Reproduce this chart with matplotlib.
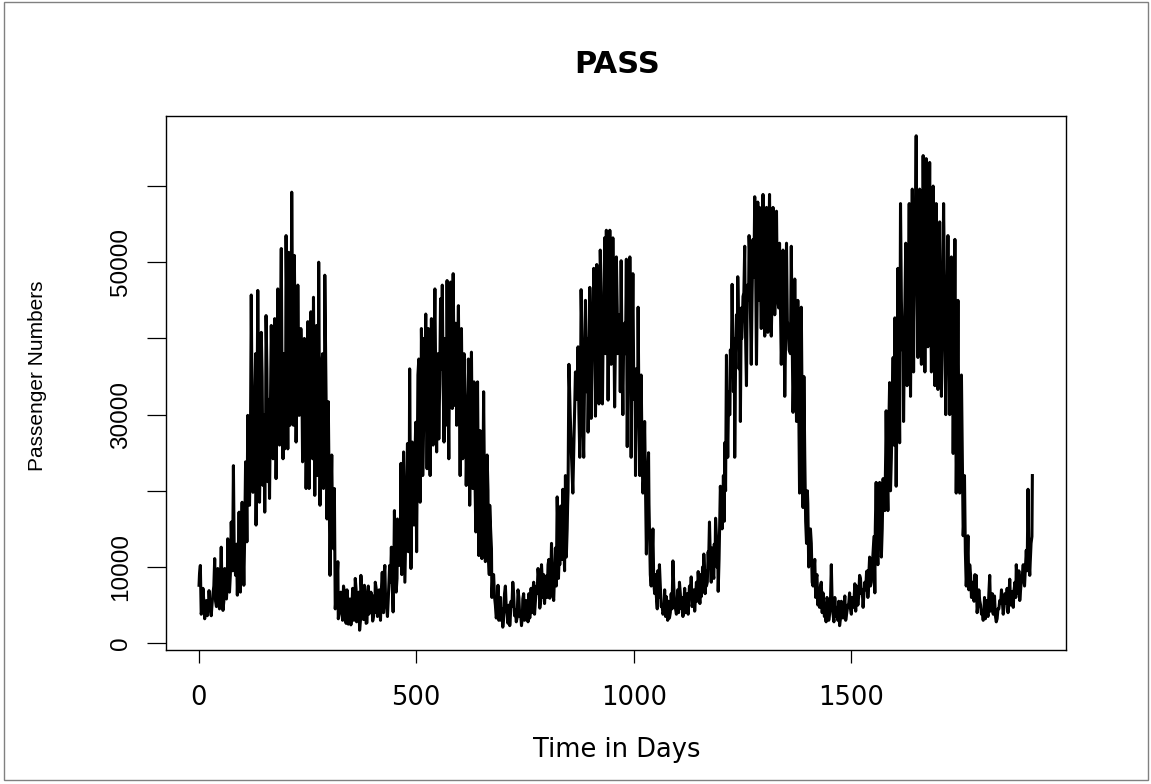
import matplotlib
matplotlib.use("Agg")
import matplotlib.pyplot as plt
import numpy as np
from matplotlib.patches import Rectangle

# ---- data (day index, passengers in thousands) ----
day = [
    1, 4, 6, 10, 14, 18, 21, 24, 29, 33, 37, 41, 44, 48, 52, 56, 60, 64, 67, 71,
    75, 78, 80, 85, 89, 93, 96, 100, 104, 108, 111, 113, 117, 121, 125, 129, 132, 136, 140, 144,
    148, 152, 155, 159, 163, 167, 171, 175, 178, 182, 186, 190, 194, 198,
    201, 205, 207, 210, 214, 218, 220, 224, 228, 231, 235, 239, 243, 247, 251, 254,
    258, 262, 264, 267, 271, 273, 276, 279, 283, 287, 290, 293, 295, 298, 302, 306, 310, 312,
    316, 320, 323, 327, 331, 335, 339, 343, 346, 350, 354, 357, 360, 363, 368, 370,
    373, 377, 381, 385, 388, 391, 396, 400, 403, 406, 411,
    415, 418, 422, 425, 428, 431, 434, 439, 443, 447, 450, 454, 457, 462, 465, 468,
    471, 474, 480, 482, 485, 488, 491, 495, 499, 501, 504, 506, 509, 512, 515, 518,
    522, 525, 528, 532, 535, 539, 543, 547, 550, 552, 556, 560, 564, 566, 568, 571,
    575, 579, 583, 585, 589, 591, 593, 597, 601, 604, 607, 610, 612, 615, 620, 623,
    627, 630, 633, 637,
    641, 644, 647, 651, 655, 659, 663, 666, 669, 673, 676, 680, 684, 688, 692, 695,
    699, 703, 707, 711, 715, 718, 722, 726, 730, 734, 738, 742, 745, 749, 753, 757,
    761, 764, 768, 772, 776, 780, 784, 788, 791, 795, 799, 803, 807, 811, 816, 820,
    824, 827, 830, 834, 837, 841, 845, 848, 851,
    857, 860, 866, 872, 876, 879, 882, 885, 889, 892, 895, 899, 902, 905, 908, 912,
    915, 918, 920, 923, 926, 928, 933, 935, 937, 941, 945, 948, 952, 956, 960, 963,
    966, 969, 971, 975, 979, 983, 985, 988, 991, 994, 998, 1001, 1004, 1007, 1010, 1014,
    1017, 1021, 1025, 1029, 1032, 1035, 1038, 1040, 1044, 1048, 1052, 1055, 1059, 1063, 1067, 1071,
    1075, 1078, 1082, 1086, 1090, 1094, 1098, 1101, 1105, 1109, 1113, 1117, 1121, 1125, 1128, 1132,
    1136, 1140, 1144, 1148, 1152, 1155, 1158, 1161, 1164, 1167, 1171, 1174, 1178, 1182, 1185, 1188,
    1191, 1194, 1197, 1199, 1203, 1206, 1209, 1211, 1213, 1216, 1219, 1222, 1226, 1229, 1232, 1236,
    1239, 1242, 1245, 1248, 1251, 1255, 1257, 1259, 1262, 1265, 1268, 1270, 1274, 1278, 1282, 1285,
    1287, 1289, 1293, 1297, 1301, 1305, 1308, 1312, 1316, 1320, 1324, 1328, 1331, 1335, 1339, 1343,
    1347, 1351, 1354, 1357, 1362, 1366, 1370, 1374, 1377, 1381, 1385, 1389, 1393, 1397, 1400, 1404,
    1408, 1410, 1412, 1416, 1419, 1423, 1427, 1431, 1435, 1438, 1442, 1446, 1450, 1454, 1458, 1462,
    1466, 1469, 1473, 1477, 1481, 1485, 1489, 1492, 1496, 1500, 1504, 1508, 1512, 1515, 1519, 1523,
    1527, 1531, 1535, 1538, 1542, 1546, 1550, 1554, 1557, 1561, 1565, 1569, 1573, 1577, 1580, 1584,
    1588, 1592, 1596, 1600, 1603, 1607, 1611, 1613, 1617, 1620, 1625, 1628, 1633, 1636, 1640, 1643,
    1646, 1649, 1653, 1657, 1661, 1665, 1669, 1672, 1676, 1680, 1684, 1688, 1692, 1695, 1699, 1703,
    1707, 1712, 1717, 1722, 1726, 1730, 1734, 1738, 1741, 1745, 1749, 1753, 1757, 1760, 1764, 1768,
    1772, 1776, 1780, 1784, 1787, 1791, 1795, 1799, 1803, 1806, 1810, 1814, 1818, 1822, 1826, 1829,
    1833, 1837, 1841, 1845, 1849, 1853, 1856, 1860, 1864, 1868, 1872, 1876, 1879, 1883, 1887, 1891,
    1895, 1898, 1902, 1906, 1910, 1913, 1916,
]

passengers_k = [
    7.6, 10.2, 3.8, 7.2, 3.2, 5.6, 4.4, 6.9, 3.6, 6.5, 11.1, 4.8, 9.8, 4.5, 12.6, 4.3, 9.8, 5.8, 13.7, 6.7,
    15.9, 9.5, 23.3, 8.9, 6.3, 17.2, 6.7, 18.5, 7.6, 23.8, 13.3, 29.9, 18.1, 45.7, 19.8, 32.1, 15.5, 46.3, 18.5, 40.8,
    20.7, 17.2, 43.0, 21.2, 19.0, 41.7, 24.2, 42.6, 21.6, 46.5, 26.0, 51.8, 24.2, 25.5,
    53.5, 25.5, 51.3, 28.6, 59.2, 28.6, 50.9, 26.4, 47.0, 29.9, 41.3, 23.8, 40.0, 20.3, 42.2, 20.3,
    43.5, 24.2, 45.4, 19.4, 41.7, 22.0, 50.0, 18.1, 36.5, 20.3, 48.3, 32.1, 16.3, 31.7, 8.9, 24.7, 12.4, 20.3,
    6.3, 10.7, 4.0, 6.7, 3.0, 6.7, 2.6, 5.5, 3.2, 2.4, 7.2, 3.0, 8.5, 2.8, 6.7, 1.7,
    8.9, 3.5, 7.6, 2.6, 6.0, 3.8, 6.7, 2.9, 6.2, 8.0, 3.5,
    7.0, 3.0, 9.3, 4.0, 10.2, 5.5, 3.5, 10.2, 12.6, 4.1, 17.4, 6.7, 16.3, 10.2, 23.6, 11.1,
    25.1, 8.0, 26.2, 12.0, 36.0, 9.8, 26.4, 15.5, 29.0, 12.0, 35.2, 37.3, 18.5, 41.3, 22.0, 40.0,
    43.2, 22.9, 41.3, 22.0, 42.6, 26.0, 46.5, 25.1, 38.0, 26.8, 45.2, 47.0, 26.4, 40.0, 28.6, 47.6,
    24.2, 47.4, 30.8, 48.5, 31.2, 42.0, 28.6, 44.3, 22.0, 41.3, 24.2, 38.0, 33.0, 20.7, 37.3, 18.1,
    38.2, 20.3, 34.3, 14.6,
    34.3, 11.5, 27.9, 11.1, 33.0, 10.7, 24.7, 11.5, 18.1, 12.4, 8.9, 6.1, 3.3, 7.6, 5.6, 3.0,
    2.1, 6.5, 4.7, 2.6, 2.3, 5.5, 8.0, 3.6, 2.8, 7.0, 3.5, 2.3, 5.8, 3.0, 5.6, 2.8,
    3.3, 7.2, 6.6, 3.8, 7.5, 9.8, 4.6, 10.3, 6.0, 5.2, 8.8, 10.3, 5.9, 13.1, 5.6, 12.5,
    19.2, 8.5, 10.3, 16.0, 20.2, 9.5, 11.3, 18.0, 36.6,
    24.4, 19.7, 35.6, 38.9, 24.4, 46.4, 30.0, 24.4, 45.0, 33.0, 27.7, 46.7, 29.5, 40.0, 49.2, 29.8,
    49.7, 38.0, 31.4, 51.6, 40.0, 31.4, 53.2, 38.0, 54.2, 31.9, 54.2, 36.6, 53.2, 31.0, 50.7, 38.0,
    43.1, 33.0, 50.2, 30.0, 42.0, 50.4, 25.8, 40.0, 50.7, 24.4, 48.5, 32.0, 22.0, 36.0, 44.1, 22.0,
    35.2, 19.7, 29.1, 11.7, 22.0, 18.3, 9.0, 7.5, 15.0, 6.5, 6.1, 9.5, 10.3, 4.8, 3.8, 7.0,
    6.1, 3.0, 3.3, 6.5, 10.8, 5.0, 3.8, 7.0, 8.0, 4.5, 3.5, 7.2, 5.6, 3.8, 7.5, 8.7,
    5.5, 4.2, 8.0, 9.4, 5.2, 6.1, 10.0, 11.7, 6.5, 7.5, 12.0, 15.9, 8.0, 9.4, 13.0, 16.4,
    10.0, 6.8, 14.0, 20.6, 15.0, 22.0, 26.3, 20.0, 37.8, 24.4, 30.0, 38.5, 47.1, 33.0, 24.4, 43.1,
    48.1, 36.0, 29.1, 40.0, 45.5, 52.1, 40.0, 33.8, 45.0, 53.5, 44.0, 36.6, 53.0, 58.6, 36.6, 57.9,
    45.0, 57.2, 41.3, 58.9, 40.3, 57.2, 40.8, 58.9, 40.3, 57.2, 43.1, 56.7, 45.0, 52.5, 36.6, 51.6,
    32.4, 52.5, 42.0, 38.5, 52.1, 30.3, 47.8, 29.1, 45.0, 19.7, 44.1, 17.8, 24.4, 13.1, 18.3, 12.2,
    13.1, 8.0, 7.5, 11.0, 8.4, 5.0, 4.7, 8.0, 6.6, 3.5, 2.8, 5.5, 3.8, 10.3, 3.8, 6.0,
    4.7, 3.0, 2.3, 5.5, 3.3, 6.2, 3.8, 5.0, 6.6, 3.8, 4.7, 7.8, 7.5, 5.0, 8.9, 6.5,
    4.7, 8.0, 9.4, 6.0, 11.3, 8.0, 12.2, 6.6, 21.1, 10.3, 21.1, 11.3, 21.6, 17.4, 30.5, 17.4,
    34.2, 24.4, 37.5, 42.7, 20.6, 49.2, 26.3, 57.7, 38.5, 29.1, 52.5, 33.8, 57.7, 32.4, 59.6, 35.6,
    50.0, 66.6, 37.5, 59.6, 36.6, 64.0, 35.6, 63.6, 38.9, 63.1, 35.6, 60.0, 33.8, 57.7, 33.3, 55.3,
    32.4, 57.7, 30.0, 53.5, 30.0, 50.7, 24.9, 53.0, 19.7, 45.0, 19.7, 35.2, 14.1, 22.0, 7.5, 14.1,
    10.3, 6.0, 6.1, 9.0, 8.9, 5.0, 5.6, 3.8, 3.0, 6.0, 5.6, 3.5, 8.9, 5.0, 3.8, 6.2,
    2.8, 4.5, 5.6, 7.0, 3.8, 6.5, 5.2, 4.0, 8.4, 6.0, 4.7, 8.0, 10.3, 6.5, 5.6, 8.5,
    10.3, 7.5, 12.2, 20.2, 8.9, 13.1, 22.0,
]

# further in-between readings of the dense band (same units)
day_extra = [
    2, 8, 12, 16, 20, 23, 26, 31, 35, 39, 43, 46, 50, 54, 58, 62, 66, 69, 73, 77,
    82, 87, 91, 95, 98, 102, 106, 110, 115, 119,
    123, 127, 131, 134, 138, 142, 146, 150, 154, 157, 161, 165, 169, 173, 177, 180, 184, 188, 192, 196,
    200, 203, 209, 212, 216, 222, 226, 230, 233, 237, 241, 245, 249, 253, 256, 260, 266, 269, 275, 281,
    285, 289, 297, 300, 304,
    308, 314, 318, 321, 325, 329, 333, 337, 341, 344, 348, 352, 355, 359, 362, 366, 372, 375, 379, 383,
    387, 390, 394, 398, 402, 405, 409, 413, 416, 420, 424, 427, 430, 436, 441, 445, 449, 452, 456, 460,
    464, 467, 470, 473, 477,
    484, 490, 493, 497, 503, 508, 511, 514, 517, 520, 524, 527, 530, 534, 537, 541, 545, 549, 554, 558,
    562, 570, 573, 577, 581, 587, 595, 599, 603, 606, 609, 614, 617, 619, 622, 625, 629, 632, 635, 639,
    653, 657, 661, 665, 668, 671, 674, 678, 682, 686, 690, 694, 697, 701, 705, 709, 713, 716, 720, 724,
    728, 732, 736, 740, 744, 747, 751, 755, 759, 763, 766, 770, 774, 778, 782, 786, 790, 793, 797, 801,
    805, 809, 813, 818, 822, 826, 829, 832, 836, 839, 843, 847, 849, 854,
    863, 869, 874, 878, 881, 887, 891, 894, 897, 901, 904, 907, 910, 914, 917, 922, 925, 930, 932, 939,
    943, 947, 950, 954, 958, 962, 965, 968, 973, 977, 981, 987, 990, 996, 1000, 1003, 1006, 1009, 1012, 1016,
    1019, 1023,
    1027, 1030, 1034, 1037, 1042, 1046, 1050, 1054, 1057, 1061, 1065, 1069, 1073, 1077, 1080, 1084, 1088, 1092, 1096, 1100,
    1103, 1107, 1111, 1115, 1119, 1123, 1126, 1130, 1134, 1138, 1142, 1146, 1150, 1153, 1157, 1160, 1163, 1166, 1169, 1172,
    1176, 1180, 1184, 1187, 1190, 1193, 1196, 1201, 1205, 1208,
    1215, 1218, 1221, 1224, 1228, 1231, 1234, 1238, 1241, 1244, 1247, 1250, 1253, 1256, 1261, 1264, 1267, 1272, 1276, 1280,
    1284, 1288, 1291, 1295, 1299, 1303, 1307, 1310, 1314, 1318, 1322, 1326, 1330, 1333, 1337, 1341, 1345, 1349, 1353, 1356,
    1360, 1364, 1368, 1372, 1376, 1379, 1383,
    1387, 1391, 1395, 1399, 1402, 1406, 1414, 1418, 1421, 1425, 1429, 1433, 1437, 1440, 1444, 1448, 1452, 1456, 1460, 1464,
    1468, 1471, 1475, 1479, 1483, 1487, 1490, 1494, 1498, 1502, 1506, 1510, 1513, 1517, 1521, 1525, 1529, 1533, 1537, 1540,
    1544, 1548, 1552, 1555, 1559, 1563, 1567, 1571, 1575, 1579, 1582, 1586, 1590, 1594, 1598,
    1605, 1609, 1615, 1619, 1622, 1627, 1631, 1635, 1638, 1642, 1645, 1651, 1655, 1659, 1663, 1667, 1671, 1674, 1678, 1682,
    1686, 1690, 1694, 1697, 1701, 1705, 1710, 1715, 1719, 1724, 1728, 1732, 1736, 1740, 1743, 1747, 1751,
    1755, 1759, 1762, 1766, 1770, 1774, 1778, 1782, 1786, 1789, 1793, 1797, 1801, 1805, 1808, 1812, 1816, 1820, 1824, 1828,
    1831, 1835, 1839, 1843, 1847, 1851, 1855, 1858, 1862, 1866, 1870, 1874, 1878, 1881, 1885, 1889, 1893, 1897, 1900, 1904,
    1908, 1911, 1915,
]

passengers_extra_k = [
    9.0, 4.5, 5.5, 5.0, 3.6, 5.0, 4.8, 5.2, 7.5, 5.5, 7.0, 6.0, 8.0, 6.5, 5.5, 9.0, 8.0, 10.5, 9.0, 12.0,
    11.0, 13.0, 11.0, 10.5, 14.0, 13.0, 14.5, 18.0, 22.0, 25.0,
    30, 24, 38, 28, 33, 26, 35, 30, 28, 36, 32, 30, 35, 28, 38, 33, 30, 40, 32, 38,
    33, 42, 38, 35, 44, 38, 33, 37, 30, 36, 30, 34, 28, 35, 31, 34, 30, 36, 32, 30,
    38, 26, 25, 20, 18,
    14.0, 4.5, 8.0, 3.2, 5.0, 4.2, 7.5, 3.5, 7.0, 2.5, 5.8, 4.0, 6.5, 3.6, 7.0, 4.5, 3.0, 6.0, 3.1, 5.5,
    2.7, 7.5, 4.2, 5.8, 3.5, 4.0, 6.8, 4.2, 5.5, 7.0, 6.0, 9.5, 4.8, 6.0, 8.0, 7.5, 11.5, 9.0, 8.5, 14.0,
    15.0, 9.0, 18.0, 13.0, 17.0,
    20, 22, 18, 24, 28, 30, 26, 32, 28, 34, 30, 35, 32, 36, 33, 38, 34, 37, 34, 36,
    34, 38, 34, 40, 38, 36, 37, 33, 35, 30, 32, 30, 28, 30, 26, 28, 25, 24, 22, 20,
    18.0, 20.0, 16.0, 20.0, 9.0, 15.0, 6.0, 9.0, 5.0, 4.0, 3.0, 6.0, 4.5, 3.2, 7.5, 3.8, 5.0, 3.0, 4.8, 6.5,
    4.4, 3.4, 6.0, 4.0, 3.5, 6.5, 4.2, 4.5, 6.5, 5.0, 4.0, 8.0, 5.5, 6.5, 8.5, 5.5, 8.0, 9.0, 7.5, 6.0,
    11.0, 8.0, 7.0, 9.0, 7.5, 14.0, 12.5, 18.0, 11.0, 14.0, 22.0, 15.0, 20.0, 30.0,
    28, 32, 30, 36, 40, 35, 38, 40, 36, 41, 38, 44, 42, 38, 43, 41, 46, 42, 45, 44,
    42, 45, 42, 44, 40, 44, 40, 42, 38, 41, 38, 40, 36, 38, 34, 36, 32, 33, 30, 28,
    25, 22,
    20.0, 16.0, 25.0, 12.0, 11.0, 8.0, 9.0, 4.5, 6.0, 7.5, 5.0, 4.2, 3.5, 4.0, 5.5, 4.0, 4.5, 7.5, 4.5, 5.5,
    4.0, 6.5, 6.0, 5.0, 4.0, 6.5, 5.0, 6.0, 4.8, 7.0, 6.0, 5.5, 7.5, 9.0, 7.0, 8.5, 9.0, 9.5, 8.0, 10.5,
    11.0, 12.5, 8.5, 11.5, 14.0, 12.0, 11.0, 18.0, 19.0, 16.0,
    28, 33, 30, 35, 38, 40, 37, 40, 42, 40, 44, 43, 46, 44, 47, 46, 50, 46, 48, 50,
    47, 50, 48, 50, 48, 50, 47, 49, 48, 46, 49, 47, 46, 44, 45, 42, 44, 40, 42, 40,
    38, 40, 36, 38, 33, 32, 28,
    30.0, 35.0, 16.0, 20.0, 10.0, 15.0, 9.5, 6.0, 9.0, 6.5, 7.5, 4.0, 5.0, 4.0, 6.0, 3.0, 5.5, 5.0, 2.8, 3.5,
    4.2, 5.5, 3.2, 4.0, 4.5, 3.0, 4.2, 5.2, 4.5, 6.0, 5.5, 4.2, 6.5, 6.2, 8.5, 7.0, 6.5, 7.0, 9.5, 8.5,
    7.5, 10.0, 14.0, 15.0, 13.0, 16.0, 18.0, 15.0, 18.0, 25.0, 22.0, 28.0, 20.0, 31.0, 26.0,
    32, 38, 45, 42, 40, 45, 47, 43, 48, 46, 50, 48, 52, 50, 48, 52, 50, 48, 50, 47,
    49, 46, 48, 44, 46, 43, 44, 42, 40, 42, 38, 39, 36, 32, 30, 28, 24,
    25.0, 17.0, 12.0, 10.0, 7.0, 9.0, 8.0, 5.5, 6.5, 4.0, 7.0, 5.0, 4.0, 4.5, 3.2, 5.0, 6.5, 4.2, 6.5, 4.8,
    3.6, 3.2, 4.5, 5.2, 5.5, 4.8, 6.0, 7.2, 6.0, 5.0, 6.8, 7.0, 6.0, 8.5, 9.5, 7.0, 9.0, 8.0, 10.0, 9.5,
    11.0, 10.5, 14.0,
]

x_ticks = [0, 500, 1000, 1500]
x_tick_labels = ["0", "500", "1000", "1500"]
y_ticks = [0, 10000, 20000, 30000, 40000, 50000, 60000]
y_tick_labels = ["0", "10000", "", "30000", "", "50000", ""]
title_text = "PASS"
x_label = "Time in Days"
y_label = "Passenger Numbers"

# merge all readings into one daily-ordered series
all_day = np.asarray(day + day_extra, dtype=float)
all_pass = np.asarray(passengers_k + passengers_extra_k, dtype=float) * 1000.0
order = np.argsort(all_day, kind="stable")
all_day = all_day[order]
all_pass = all_pass[order]

W, H = 1151, 784
fig = plt.figure(figsize=(W / 100, H / 100), dpi=100)
fig.patch.set_facecolor("white")

# plot box (pixel geometry of the reference)
L, R, T, B = 165.7, 1065.7, 116.0, 650.0
ax = fig.add_axes([L / W, (H - B) / H, (R - L) / W, (B - T) / H])

ax.plot(all_day, all_pass, color="black", lw=2.2, solid_joinstyle="round")


def r_range(lo, hi):
    d = (hi - lo) * 0.04
    return lo - d, hi + d


ax.set_xlim(*r_range(all_day.min(), all_day.max()))
ax.set_ylim(*r_range(all_pass.min(), all_pass.max()))

for s in ax.spines.values():
    s.set_linewidth(1.0)
    s.set_color("black")

ax.set_xticks(x_ticks)
ax.set_xticklabels(x_tick_labels, family="DejaVu Sans", fontsize=18.5)
ax.set_yticks(y_ticks)
ax.set_yticklabels(y_tick_labels, family="Liberation Sans", fontsize=17.5,
                   rotation=90, va="center")
ax.tick_params(axis="x", length=9.4, width=0.9, pad=16, colors="black")
ax.tick_params(axis="y", length=13.7, width=0.9, pad=10.5, colors="black")


def px(x, y):
    return x / W, 1 - y / H


fig.text(*px(617, 73.3), title_text, family="DejaVu Sans", fontweight="bold",
         fontsize=22, ha="center", va="baseline")
fig.text(*px(617, 756.7), x_label, family="DejaVu Sans", fontsize=18.5,
         ha="center", va="baseline")
fig.text(*px(43.3, 376), y_label, family="Liberation Sans", fontsize=15,
         rotation=90, rotation_mode="anchor", ha="center", va="baseline")

# outer frame of the device
fig.add_artist(Rectangle((4 / W, 1 - 780 / H), 1144 / W, 778 / H,
                         transform=fig.transFigure, fill=False,
                         edgecolor="#808080", lw=1.0))

fig.savefig("out.png", dpi=100)
